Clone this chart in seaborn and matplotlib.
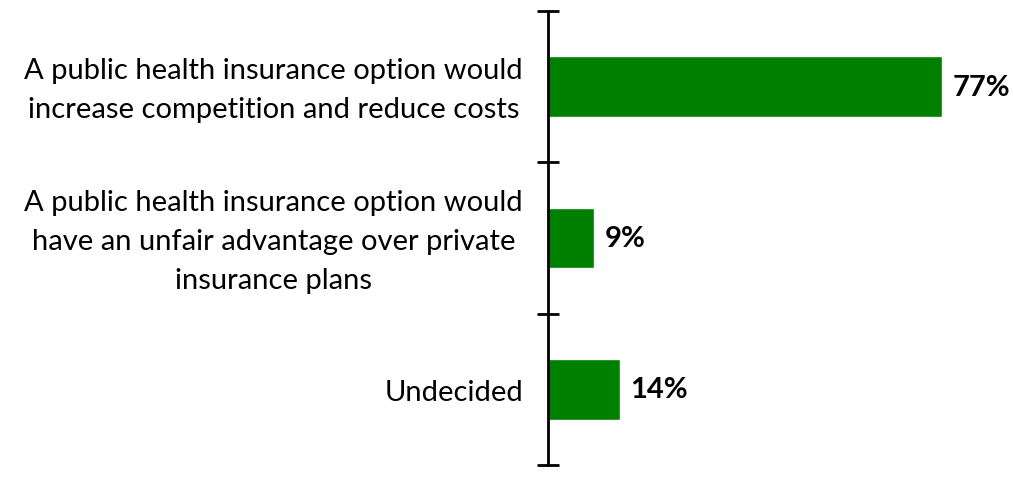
import matplotlib
matplotlib.use("Agg")
import matplotlib.pyplot as plt
import matplotlib.transforms as mtransforms
import seaborn as sns
import pandas as pd
import numpy as np

categories = [
    "A public health insurance option would\nincrease competition and reduce costs",
    "A public health insurance option would\nhave an unfair advantage over private\ninsurance plans",
    "Undecided",
]
values = [77, 9, 14]
value_labels = ["77%", "9%", "14%"]

sns.set_theme(style="white")
plt.rcParams["font.family"] = ["Lato", "DejaVu Sans"]

df = pd.DataFrame({"category": categories, "value": values})

W, H = 1013, 485
fig = plt.figure(figsize=(W / 100, H / 100), dpi=100)
ax = fig.add_axes([548 / W, (H - 466) / H, (W - 548) / W, (466 - 12) / H])

sns.barplot(data=df, y="category", x="value", orient="h", color="#008000",
            width=0.4, saturation=1, ax=ax)

ax.set_xlim(0, 90.8)
ax.set_ylim(len(categories) - 0.5, -0.5)
ax.set_xlabel("")
ax.set_ylabel("")
ax.set_xticks([])

for s in ["top", "right", "bottom"]:
    ax.spines[s].set_visible(False)
ax.spines["left"].set_linewidth(2)
ax.spines["left"].set_color("black")

# boundary ticks crossing the axis
ax.set_yticks(np.arange(len(categories) + 1) - 0.5)
ax.set_yticklabels([""] * (len(categories) + 1))
ax.tick_params(axis="y", which="major", direction="inout", length=16, width=2,
               color="black", left=True)

# category labels, drawn as text at the category centres
shift = mtransforms.ScaledTranslation(-25 / 100, -3 / 100, fig.dpi_scale_trans)
for i, cat in enumerate(categories):
    ax.text(0, i, cat, transform=ax.get_yaxis_transform() + shift,
            ha="right", va="center", multialignment="center",
            fontsize=21, color="black", linespacing=1.6)

for i, (v, lab) in enumerate(zip(values, value_labels)):
    ax.text(v + 2.0, i, lab, va="center", ha="left", fontsize=21,
            fontweight="bold", color="black")

fig.savefig("out.png", dpi=100)
